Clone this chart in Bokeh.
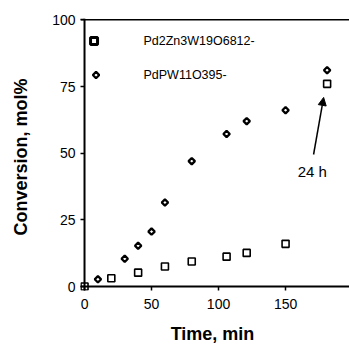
import math
from bokeh.plotting import figure
from bokeh.models import (Range1d, FixedTicker, Span, Arrow, NormalHead, Label,
                          ColumnDataSource)
from bokeh.embed import file_html
from bokeh.resources import INLINE

# ---- data ----
time_pw11 = [10, 30, 40, 50, 60, 80, 106, 121, 150, 181]
conv_pw11 = [2.7, 10.4, 15.3, 20.6, 31.5, 47.0, 57.2, 62.0, 66.1, 81.1]
time_zn = [0, 20, 40, 60, 80, 106, 121, 150, 181]
conv_zn = [0.0, 3.1, 5.2, 7.5, 9.4, 11.2, 12.6, 16.0, 76.0]
x_ticks = [0, 50, 100, 150]
y_ticks = [0, 25, 50, 75, 100]
label_zn = "Pd2Zn3W19O6812-"
label_pw = "PdPW11O395-"

FONT = "Liberation Sans"

p = figure(width=349, height=346, output_backend="svg", toolbar_location=None,
           x_range=Range1d(-3, 197.7), y_range=Range1d(-1.5, 100.5),
           min_border_left=80, min_border_right=0, min_border_top=18,
           min_border_bottom=56)
p.outline_line_color = None
p.xgrid.visible = False
p.ygrid.visible = False

for ax in (p.xaxis[0], p.yaxis[0]):
    ax.axis_line_color = None
    ax.major_tick_out = 0
    ax.major_tick_in = 4
    ax.major_tick_line_width = 1.5
    ax.major_tick_line_color = "black"
    ax.minor_tick_line_color = None
    ax.major_label_text_font = FONT
    ax.major_label_text_font_size = "14px"
    ax.major_label_text_color = "black"
    ax.axis_label_text_font = FONT
    ax.axis_label_text_font_size = "18px"
    ax.axis_label_text_font_style = "bold"
    ax.axis_label_text_color = "black"

p.xaxis.ticker = FixedTicker(ticks=x_ticks)
p.yaxis.ticker = FixedTicker(ticks=y_ticks)
p.xaxis.major_label_standoff = 8
p.yaxis.major_label_standoff = 5
p.xaxis.axis_label = "Time,  min"
p.yaxis.axis_label = "Conversion,  mol%"
p.xaxis.axis_label_standoff = 12
p.yaxis.axis_label_standoff = 18

# spines
p.add_layout(Span(location=0, dimension="height", line_color="black", line_width=2))
p.add_layout(Span(location=0, dimension="width", line_color="black", line_width=2))
p.add_layout(Span(location=100, dimension="width", line_color="black", line_width=1.5))

src_pw = ColumnDataSource(dict(x=time_pw11, y=conv_pw11))
src_zn = ColumnDataSource(dict(x=time_zn, y=conv_zn))

p.scatter("x", "y", source=src_zn, marker="square", size=7,
          fill_color=None, line_color="black", line_width=1.6)
p.scatter("x", "y", source=src_pw, marker="square", angle=math.pi / 4,
          size=4.5, fill_color=None, line_color="black", line_width=2.3)

# legend keys (placed in the upper-left corner of the frame)
key_x = 7.1
key_y_zn = 92.1
key_y_pw = 79.3
text_x = 44
p.scatter(x=[key_x], y=[key_y_zn], marker="square", size=7, fill_color=None,
          line_color="black", line_width=3)
p.scatter(x=[key_x + 1.5], y=[key_y_pw], marker="square", angle=math.pi / 4,
          size=4.5, fill_color=None, line_color="black", line_width=2.3)
p.add_layout(Label(x=text_x, y=key_y_zn, text=label_zn, text_baseline="middle",
                   text_font=FONT, text_font_size="12.5px", text_color="black"))
p.add_layout(Label(x=text_x, y=key_y_pw, text=label_pw, text_baseline="middle",
                   text_font=FONT, text_font_size="12.5px", text_color="black"))

p.add_layout(Arrow(end=NormalHead(size=8, fill_color="black", line_color="black"),
                   x_start=170.9, y_start=49.5, x_end=178.4, y_end=70.9,
                   line_width=1.5, line_color="black"))
p.add_layout(Label(x=159, y=43, text="24 h", text_baseline="middle",
                   text_font=FONT, text_font_size="15px", text_color="black"))

open("out.html", "w").write(file_html(p, INLINE))
